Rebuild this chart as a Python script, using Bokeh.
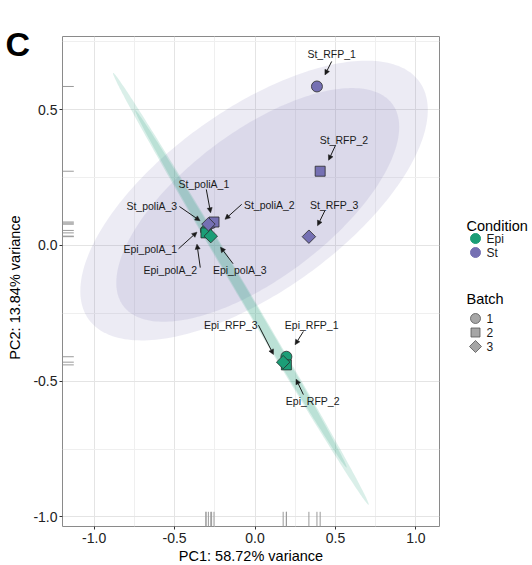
import numpy as np
from bokeh.plotting import figure
from bokeh.models import (ColumnDataSource, Range1d, FixedTicker, Arrow, NormalHead,
                          NumeralTickFormatter)
from bokeh.layouts import row
from bokeh.embed import file_html
from bokeh.resources import INLINE
from bokeh.core.properties import value

# ---------------- data ----------------
samples = ["Epi_polA_1", "Epi_polA_2", "Epi_polA_3", "Epi_RFP_1", "Epi_RFP_2", "Epi_RFP_3",
           "St_poliA_1", "St_poliA_2", "St_poliA_3", "St_RFP_1", "St_RFP_2", "St_RFP_3"]
condition = ["Epi"] * 6 + ["St"] * 6
batch = ["1", "2", "3"] * 4
pc1 = [-0.305, -0.305, -0.275, 0.195, 0.195, 0.175,
       -0.270, -0.255, -0.290, 0.385, 0.405, 0.335]
pc2 = [0.055, 0.046, 0.034, -0.410, -0.440, -0.430,
       0.082, 0.086, 0.078, 0.585, 0.273, 0.032]

x_ticks = [-1.0, -0.5, 0.0, 0.5, 1.0]
y_ticks = [-1.0, -0.5, 0.0, 0.5]
x_title = "PC1: 58.72% variance"
y_title = "PC2: 13.84% variance"
panel_letter = "C"

# confidence ellipses (centre, semi-axes, angle in degrees)
ell_cond = ["St", "St", "Epi", "Epi"]
ell_cx = [-0.006, 0.017, -0.088, -0.088]
ell_cy = [0.165, 0.149, -0.160, -0.160]
ell_a = [1.137, 0.931, 1.124, 0.930]
ell_b = [0.373, 0.303, 0.030, 0.025]
ell_ang = [19.3, 20.3, -45.0, -45.0]

cond_levels = ["Epi", "St"]
batch_levels = ["1", "2", "3"]

# ---------------- layout / style ----------------
XR = (-1.197, 1.147)
YR = (-1.035, 0.769)
TOP, FW, FH, BOT = 36, 377, 490, 38
LEFT_W, AX_W, RIGHT_B, LEG_W = 30, 32, 2, 90
H = TOP + FH + BOT
ppx = FW / (XR[1] - XR[0])
ppy = FH / (YR[1] - YR[0])

COL = {"Epi": "#1B9E77", "St": "#7570B3"}
ALPHA = {"Epi": 0.16, "St": 0.14}
MARK = {"1": "circle", "2": "square", "3": "square"}
ANG = {"1": 0.0, "2": 0.0, "3": np.pi / 4}
SIZE = {"1": 11, "2": 10, "3": 9.5}
FONT = "Liberation Sans"

# label / arrow offsets in screen pixels (dx right, dy down) relative to each point
lab_off = [(-55.7, 18.3), (-35.7, 37.0), (29.0, 34.3), (25.3, -32.0), (26.3, 36.3), (-52.3, -37.0),
           (-7.7, -39.3), (55.3, -17.0), (-56.6, -17.7), (14.7, -32.6), (23.7, -31.0), (25.3, -32.0)]
arr_start = [(-27.4, 18.3), (-5.7, 34.7), (22.3, 27.6), (17.0, -25.3), (17.0, 29.7), (-24.7, -37.0),
             (-5.3, -33.7), (27.7, -17.7), (-29.0, -17.7), (14.7, -25.0), (15.4, -26.0), (16.0, -26.0)]
arr_end = [(-9.0, 1.7), (-9.0, 11.3), (9.7, 11.0), (8.7, -12.0), (9.7, 14.3), (-9.7, -7.7),
           (-1.0, -10.3), (11.0, -2.7), (-8.3, -3.4), (8.0, -11.6), (8.4, -11.0), (8.6, -11.0)]


def side_fig(w):
    f = figure(width=w, height=H, x_range=Range1d(0, w), y_range=Range1d(H, 0),
               x_axis_type=None, y_axis_type=None, min_border=0, outline_line_color=None,
               toolbar_location=None, output_backend="svg",
               background_fill_color="white", border_fill_color="white")
    f.grid.visible = False
    f.frame_align = False
    return f


# ---------------- left strip: panel letter + y title ----------------
lf = side_fig(LEFT_W)
lf.text(x=[5], y=[43], text=[panel_letter], text_font=value(FONT), text_font_size="34px",
        text_font_style="bold", text_baseline="alphabetic", text_color="#000000")
lf.text(x=[14], y=[TOP + FH / 2 + 6], text=[y_title], angle=np.pi / 2, text_font=value(FONT),
        text_font_size="14.5px", text_align="center", text_baseline="middle", text_color="#000000")

# ---------------- main panel ----------------
p = figure(frame_width=FW, frame_height=FH, x_range=Range1d(*XR), y_range=Range1d(*YR),
           output_backend="svg", toolbar_location=None,
           min_border_left=AX_W, min_border_top=TOP, min_border_right=RIGHT_B, min_border_bottom=BOT,
           background_fill_color="white", border_fill_color="white")

for ax, ticks in ((p.xaxis, x_ticks), (p.yaxis, y_ticks)):
    ax.ticker = FixedTicker(ticks=ticks, minor_ticks=[-0.75, -0.25, 0.25, 0.75])
    ax.formatter = NumeralTickFormatter(format="0.0")
    ax.axis_line_color = None
    ax.major_tick_line_color = "#333333"
    ax.major_tick_in = 0
    ax.major_tick_out = 3
    ax.minor_tick_line_color = None
    ax.major_label_text_font = FONT
    ax.major_label_text_font_size = "14px"
    ax.major_label_text_color = "#222222"
    ax.major_label_standoff = 2
    ax.axis_label_text_font = FONT
    ax.axis_label_text_font_size = "14.5px"
    ax.axis_label_text_font_style = "normal"
    ax.axis_label_text_color = "#000000"
    ax.axis_label_standoff = 2
p.yaxis.major_label_standoff = 1
p.xaxis.axis_label = x_title
for g in (p.xgrid, p.ygrid):
    g.grid_line_color = "#e4e4e4"
    g.minor_grid_line_color = "#efefef"
    g.grid_line_width = 1
p.outline_line_color = "#8a8a8a"
p.outline_line_width = 1

# ellipses
t = np.linspace(0, 2 * np.pi, 240)
for c, cx, cy, a, b, ang in zip(ell_cond, ell_cx, ell_cy, ell_a, ell_b, ell_ang):
    th = np.radians(ang)
    ex = cx + a * np.cos(t) * np.cos(th) - b * np.sin(t) * np.sin(th)
    ey = cy + a * np.cos(t) * np.sin(th) + b * np.sin(t) * np.cos(th)
    p.patch(ex, ey, fill_color=COL[c], fill_alpha=ALPHA[c], line_color=None)

# rugs
rx = 0.03 * (XR[1] - XR[0])
ry = 0.03 * (YR[1] - YR[0])
p.segment(x0=pc1, y0=YR[0], x1=pc1, y1=YR[0] + ry, line_color="#9a9a9a", line_width=1)
p.segment(x0=XR[0], y0=pc2, x1=XR[0] + rx, y1=pc2, line_color="#9a9a9a", line_width=1)

# points
src = ColumnDataSource(dict(
    x=pc1, y=pc2,
    fill=[COL[c] for c in condition],
    marker=[MARK[b] for b in batch],
    angle=[ANG[b] for b in batch],
    size=[SIZE[b] for b in batch],
))
p.scatter("x", "y", source=src, marker="marker", angle="angle", size="size",
          fill_color="fill", line_color="#2a2a2a", line_width=0.8)

# labels and arrows
lx = [x + d[0] / ppx for x, d in zip(pc1, lab_off)]
ly = [y - d[1] / ppy for y, d in zip(pc2, lab_off)]
p.text(x=lx, y=ly, text=samples, text_font=value(FONT), text_font_size="10.5px",
       text_align="center", text_baseline="middle", text_color="#1a1a1a")
asrc = ColumnDataSource(dict(
    xs=[x + d[0] / ppx for x, d in zip(pc1, arr_start)],
    ys=[y - d[1] / ppy for y, d in zip(pc2, arr_start)],
    xe=[x + d[0] / ppx for x, d in zip(pc1, arr_end)],
    ye=[y - d[1] / ppy for y, d in zip(pc2, arr_end)],
))
p.add_layout(Arrow(end=NormalHead(size=5, fill_color="#1a1a1a", line_color="#1a1a1a", line_width=0.5),
                   x_start="xs", y_start="ys", x_end="xe", y_end="ye", source=asrc,
                   line_color="#1a1a1a", line_width=1))

# ---------------- legend panel ----------------
lg = side_fig(LEG_W)
lg.text(x=[25, 25], y=[225, 298], text=["Condition", "Batch"], text_font=value(FONT),
        text_font_size="14.5px", text_baseline="middle", text_color="#000000")
lg.scatter(x=[34] * 2, y=[238, 252], marker="circle", size=10,
           fill_color=[COL[c] for c in cond_levels], line_color=[COL[c] for c in cond_levels])
lg.text(x=[45] * 2, y=[238, 252], text=cond_levels, text_font=value(FONT),
        text_font_size="12px", text_baseline="middle", text_color="#1a1a1a")
lg.scatter(x=[34] * 3, y=[318, 332, 346], marker=[MARK[b] for b in batch_levels],
           angle=[ANG[b] for b in batch_levels], size=[10, 9, 8.5],
           fill_color="#a6a6a6", line_color="#555555", line_width=0.8)
lg.text(x=[45] * 3, y=[318, 332, 346], text=batch_levels, text_font=value(FONT),
        text_font_size="12px", text_baseline="middle", text_color="#1a1a1a")

layout = row(lf, p, lg, spacing=0)
open("out.html", "w").write(file_html(layout, INLINE))
